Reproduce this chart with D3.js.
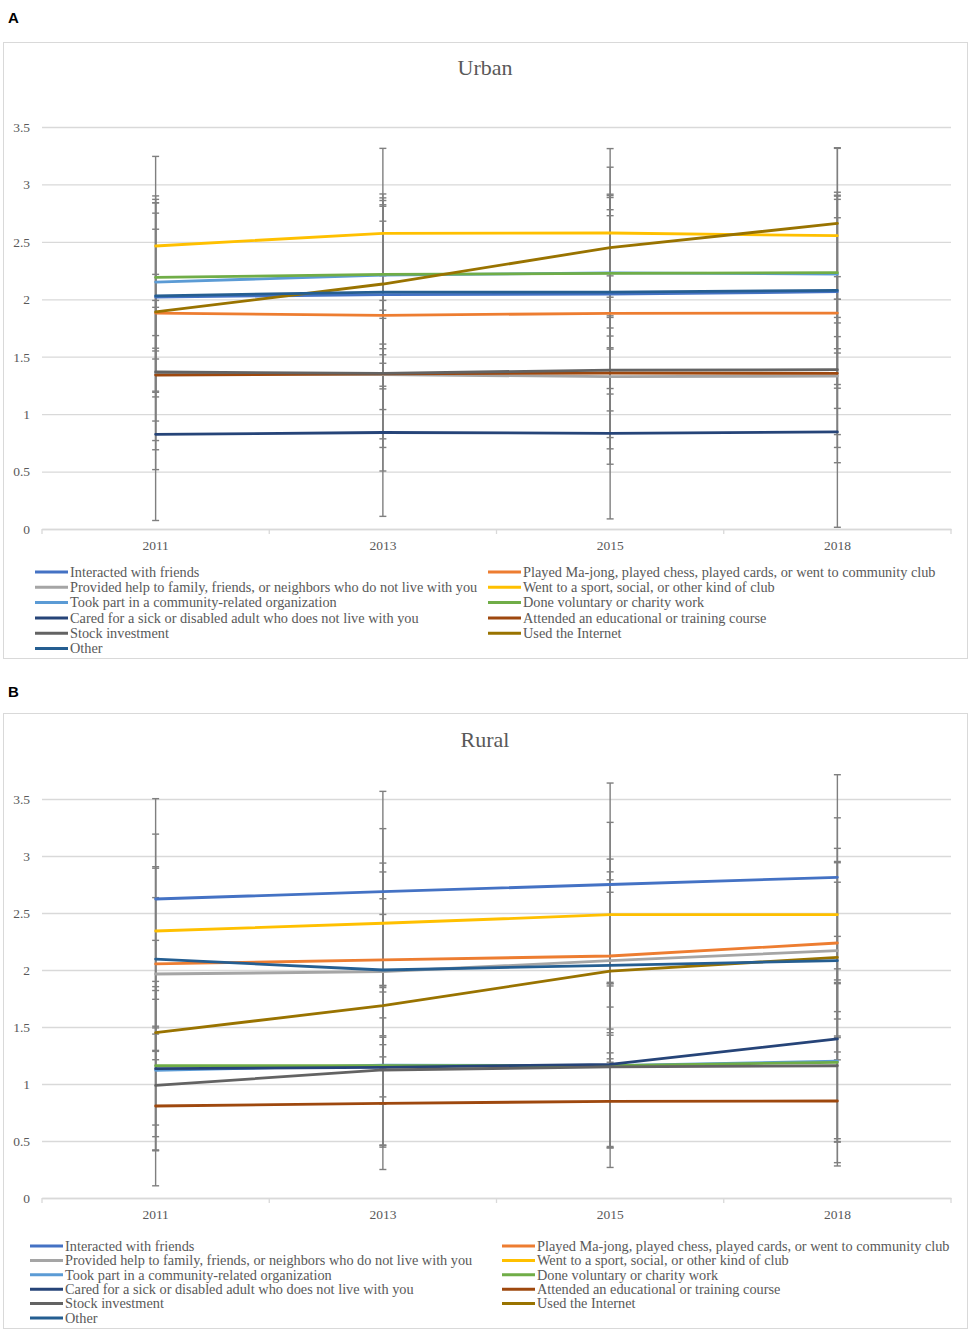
<!DOCTYPE html>
<html>
<head>
<meta charset="utf-8">
<script src="https://cdn.jsdelivr.net/npm/d3@7"></script>
<style>
  body { margin: 0; background: #fff; }
  svg { display: block; }
</style>
</head>
<body>
<div id="chart"></div>
<script>
// DATA
var years = ["2011", "2013", "2015", "2018"];

var seriesNames = [
  "Interacted with friends",
  "Played Ma-jong, played chess, played cards, or went to community club",
  "Provided help to family, friends, or neighbors who do not live with you",
  "Went to a sport, social, or other kind of club",
  "Took part in a community-related organization",
  "Done voluntary or charity work",
  "Cared for a sick or disabled adult who does not live with you",
  "Attended an educational or training course",
  "Stock investment",
  "Used the Internet",
  "Other"
];

var seriesColors = ["#4472c4", "#ed7d31", "#a5a5a5", "#ffc000", "#5b9bd5", "#70ad47",
                    "#264478", "#9e480e", "#636363", "#997300", "#255e91"];

var yTicks = [0, 0.5, 1, 1.5, 2, 2.5, 3, 3.5];
var yTickLabels = ["0", "0.5", "1", "1.5", "2", "2.5", "3", "3.5"];

// Urban means and standard deviations (one row per series, one column per year)
var urbanMean = [
  [2.02, 2.04, 2.045, 2.066],
  [1.88, 1.86, 1.878, 1.88],
  [1.35, 1.345, 1.326, 1.332],
  [2.464, 2.574, 2.577, 2.554],
  [2.15, 2.21, 2.23, 2.22],
  [2.19, 2.217, 2.226, 2.232],
  [0.824, 0.84, 0.833, 0.845],
  [1.34, 1.35, 1.358, 1.355],
  [1.367, 1.355, 1.384, 1.387],
  [1.89, 2.133, 2.45, 2.66],
  [2.03, 2.063, 2.063, 2.078]
];
var urbanSD = [
  [0.82, 0.82, 0.87, 0.84],
  [0.73, 0.82, 0.85, 0.83],
  [0.58, 0.56, 0.53, 0.51],
  [0.78, 0.74, 0.735, 0.76],
  [0.6, 0.6, 0.55, 0.65],
  [0.71, 0.7, 0.66, 0.7],
  [0.75, 0.73, 0.745, 0.83],
  [0.65, 0.64, 0.66, 0.645],
  [0.85, 0.85, 0.82, 0.81],
  [0.95, 0.69, 0.7, 0.66],
  [0.84, 0.82, 0.84, 0.82]
];

// Rural
var ruralMean = [
  [2.623, 2.687, 2.75, 2.813],
  [2.053, 2.088, 2.123, 2.237],
  [1.965, 1.985, 2.082, 2.17],
  [2.342, 2.41, 2.485, 2.485],
  [1.12, 1.165, 1.16, 1.2],
  [1.16, 1.16, 1.16, 1.19],
  [1.134, 1.146, 1.172, 1.395],
  [0.807, 0.83, 0.848, 0.851],
  [0.988, 1.123, 1.15, 1.16],
  [1.45, 1.687, 1.991, 2.111],
  [2.096, 2.0, 2.041, 2.082]
];
var ruralSD = [
  [0.88, 0.88, 0.89, 0.9],
  [0.84, 0.85, 0.85, 0.83],
  [0.67, 0.64, 0.6, 0.6],
  [0.85, 0.83, 0.81, 0.85],
  [0.7, 0.7, 0.72, 0.68],
  [0.74, 0.7, 0.72, 0.7],
  [0.72, 0.7, 0.72, 0.9],
  [0.7, 0.58, 0.58, 0.57],
  [0.45, 0.3, 0.3, 0.85],
  [0.81, 0.8, 0.8, 0.83],
  [0.81, 0.86, 0.82, 0.87]
];

var width = 971,
    height = 1339;

var serif = "'Liberation Serif', 'Times New Roman', serif",
    textGrey = "#595959",
    gridGrey = "#d9d9d9",
    barGrey = "#7f7f7f";

var svg = d3.select("#chart").append("svg")
    .attr("width", width)
    .attr("height", height);

svg.append("rect")
    .attr("width", width)
    .attr("height", height)
    .attr("fill", "#fff");

var panels = [
  { letter: "A", letterY: 23, title: "Urban", titleY: 75,
    box: [3, 42, 964, 616], top: 127, bottom: 529,
    legendX: [35, 488], legendY: 572, legendStep: 15.3,
    mean: urbanMean, sd: urbanSD },
  { letter: "B", letterY: 697, title: "Rural", titleY: 747,
    box: [3, 713, 964, 615], top: 799, bottom: 1198,
    legendX: [30, 502], legendY: 1246, legendStep: 14.4,
    mean: ruralMean, sd: ruralSD }
];

panels.forEach(drawPanel);

function drawPanel(p) {
  var left = 42, right = 951;

  svg.append("text")
      .attr("x", 8)
      .attr("y", p.letterY)
      .attr("font-family", "'Liberation Sans', Arial, sans-serif")
      .attr("font-weight", "bold")
      .attr("font-size", 15)
      .attr("fill", "#000")
      .text(p.letter);

  // chart area frame
  svg.append("rect")
      .attr("x", p.box[0] + 0.5)
      .attr("y", p.box[1] + 0.5)
      .attr("width", p.box[2])
      .attr("height", p.box[3])
      .attr("fill", "#fff")
      .attr("stroke", gridGrey)
      .attr("stroke-width", 1);

  svg.append("text")
      .attr("x", 485)
      .attr("y", p.titleY)
      .attr("text-anchor", "middle")
      .attr("font-family", serif)
      .attr("font-size", 22)
      .attr("fill", textGrey)
      .text(p.title);

  var x = d3.scaleBand()
      .domain(years)
      .range([left, right]);

  var y = d3.scaleLinear()
      .domain([0, 3.5])
      .range([p.bottom, p.top]);

  // GRID + Y AXIS
  var gy = svg.append("g")
      .attr("transform", "translate(" + left + ",0)")
      .call(d3.axisLeft(y)
          .tickValues(yTicks)
          .tickSize(-(right - left))
          .tickPadding(12)
          .tickFormat(function(d, i) { return yTickLabels[i]; }));
  gy.select(".domain").remove();
  gy.selectAll(".tick line")
      .attr("stroke", gridGrey)
      .attr("stroke-width", 1.3);
  gy.selectAll(".tick text")
      .attr("font-family", serif)
      .attr("font-size", 13.5)
      .attr("fill", textGrey);

  // X AXIS
  var gx = svg.append("g")
      .attr("transform", "translate(0," + p.bottom + ")")
      .call(d3.axisBottom(x).tickSize(0).tickPadding(11));
  gx.select(".domain")
      .attr("stroke", gridGrey)
      .attr("stroke-width", 1.3);
  gx.selectAll(".tick text")
      .attr("font-family", serif)
      .attr("font-size", 13.5)
      .attr("fill", textGrey);

  // tick marks between categories
  var edges = years.map(function(d) { return x(d); }).concat([right]);
  gx.selectAll(".edge")
      .data(edges)
      .enter().append("line")
      .attr("class", "edge")
      .attr("x1", function(d) { return d; })
      .attr("x2", function(d) { return d; })
      .attr("y1", 0)
      .attr("y2", 5)
      .attr("stroke", gridGrey)
      .attr("stroke-width", 1.3);

  var cx = function(i) { return x(years[i]) + x.bandwidth() / 2; };

  // ERROR BARS
  var bars = [];
  p.mean.forEach(function(row, s) {
    row.forEach(function(m, i) {
      bars.push({ x: cx(i), lo: m - p.sd[s][i], hi: m + p.sd[s][i] });
    });
  });

  var eb = svg.append("g").attr("class", "errorbars")
      .attr("stroke", barGrey)
      .attr("stroke-width", 1.4);
  eb.selectAll(".stem")
      .data(bars)
      .enter().append("line")
      .attr("x1", function(d) { return d.x; })
      .attr("x2", function(d) { return d.x; })
      .attr("y1", function(d) { return y(d.lo); })
      .attr("y2", function(d) { return y(d.hi); });
  eb.selectAll(".capHi")
      .data(bars)
      .enter().append("line")
      .attr("x1", function(d) { return d.x - 3.5; })
      .attr("x2", function(d) { return d.x + 3.5; })
      .attr("y1", function(d) { return y(d.hi); })
      .attr("y2", function(d) { return y(d.hi); });
  eb.selectAll(".capLo")
      .data(bars)
      .enter().append("line")
      .attr("x1", function(d) { return d.x - 3.5; })
      .attr("x2", function(d) { return d.x + 3.5; })
      .attr("y1", function(d) { return y(d.lo); })
      .attr("y2", function(d) { return y(d.lo); });

  // LINES
  var line = d3.line()
      .x(function(d, i) { return cx(i); })
      .y(function(d) { return y(d); });

  svg.append("g").attr("class", "lines")
      .selectAll("path")
      .data(p.mean)
      .enter().append("path")
      .attr("d", line)
      .attr("fill", "none")
      .attr("stroke", function(d, i) { return seriesColors[i]; })
      .attr("stroke-width", 2.8)
      .attr("stroke-linecap", "round")
      .attr("stroke-linejoin", "round");

  // LEGEND
  var lg = svg.append("g").attr("class", "legend")
      .selectAll("g")
      .data(seriesNames)
      .enter().append("g")
      .attr("transform", function(d, i) {
        return "translate(" + p.legendX[i % 2] + "," + (p.legendY + Math.floor(i / 2) * p.legendStep) + ")";
      });
  lg.append("line")
      .attr("x1", 0)
      .attr("x2", 33)
      .attr("stroke", function(d, i) { return seriesColors[i]; })
      .attr("stroke-width", 3);
  lg.append("text")
      .attr("x", 35)
      .attr("dy", "0.33em")
      .attr("font-family", serif)
      .attr("font-size", 14.3)
      .attr("fill", textGrey)
      .text(function(d) { return d; });
}
</script>
</body>
</html>
